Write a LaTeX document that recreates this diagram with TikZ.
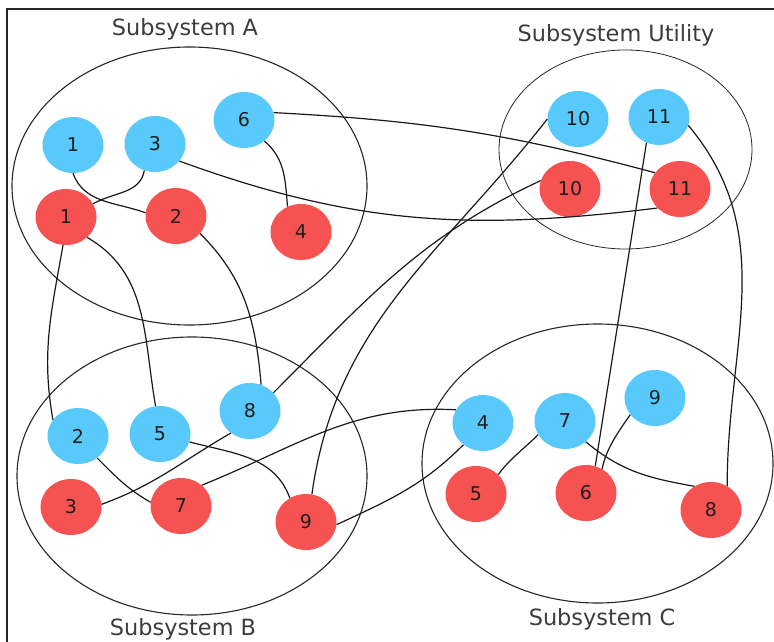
\documentclass[tikz,border=0pt]{standalone}
\usepackage{fontspec}
\setmainfont{DejaVu Sans}
\usetikzlibrary{shapes.geometric}
\definecolor{procblue}{RGB}{88,201,250}
\definecolor{procred}{RGB}{246,82,82}
\definecolor{inktext}{RGB}{30,30,30}
\definecolor{labeltext}{RGB}{60,60,60}
\tikzset{
  bluenode/.style={ellipse, fill=procblue, minimum width=61pt, minimum height=56pt, inner sep=0pt,
    text=inktext, font=\fontsize{19}{23}\selectfont},
  rednode/.style={bluenode, fill=procred},
  group/.style={draw=black!85, line width=1.1pt},
  grouplabel/.style={text=labeltext, font=\fontsize{22.4}{26}\selectfont, inner sep=0pt},
  link/.style={draw=black!90, line width=1.2pt}
}
\begin{document}
\begin{tikzpicture}[x=1pt,y=1pt]
  \useasboundingbox (0,0) rectangle (774,-642);
  % outer frame (top and left edges)
  \draw[line width=2pt, black!85] (7,-642) -- (7,-9) -- (774,-9);

  % subsystem outlines
  \draw[group] (189.5,-186) ellipse [x radius=177.5, y radius=139];
  \draw[group, line width=0.8pt] (625.5,-149.5) ellipse [x radius=126.5, y radius=99.5];
  \draw[group] (192,-476) ellipse [x radius=175, y radius=139];
  \draw[group] (597.5,-463.5) ellipse [x radius=175.5, y radius=139.5];

  \node[grouplabel] (labA) at (185,-29) {Subsystem A};
  \node[grouplabel] (labU) at (616,-35) {Subsystem Utility};
  \node[grouplabel] (labB) at (183,-629) {Subsystem B};
  \node[grouplabel] (labC) at (602,-619) {Subsystem C};

  % subsystem A
  \node[bluenode] (b1) at (73,-145) {1};
  \node[bluenode] (b3) at (155,-144) {3};
  \node[bluenode] (b6) at (244,-120) {6};
  \node[rednode] (r1) at (66,-217) {1};
  \node[rednode] (r2) at (176,-216) {2};
  \node[rednode] (r4) at (301,-232) {4};

  % subsystem Utility
  \node[bluenode] (b10) at (578,-119) {10};
  \node[bluenode] (b11) at (659,-117) {11};
  \node[rednode] (r10) at (570,-189) {10};
  \node[rednode] (r11) at (680,-189) {11};

  % subsystem B
  \node[bluenode] (b2) at (78,-436) {2};
  \node[bluenode] (b5) at (160,-434) {5};
  \node[bluenode] (b8) at (250,-411) {8};
  \node[rednode] (r3) at (71,-507) {3};
  \node[rednode] (r7) at (181,-506) {7};
  \node[rednode] (r9) at (306,-522) {9};

  % subsystem C
  \node[bluenode] (b4) at (483,-423) {4};
  \node[bluenode] (b7) at (565,-421) {7};
  \node[bluenode] (b9) at (655,-398) {9};
  \node[rednode] (r5) at (476,-494) {5};
  \node[rednode] (r6) at (586,-493) {6};
  \node[rednode] (r8) at (711,-510) {8};

  % connections
  \draw[link] (b1.-90) to[out=-70,in=160] (r2.174);
  \draw[link] (b3.-112) to[out=-100,in=30] (r1.26);
  \draw[link] (b6.-46) to[out=-40,in=95] (r4.118);
  \draw[link] (b6.14) to[out=-3,in=165] (r11.147);
  \draw[link] (b3.-35) to[out=-20,in=187] (r11.220);
  \draw[link] (r1.-96) to[out=-100,in=100] (b2.147);
  \draw[link] (r1.-44) to[out=-30,in=100] (b5.99);
  \draw[link] (r2.-36) to[out=-45,in=95] (b8.67);
  \draw[link] (r10.164) to[out=-155,in=45] (b8.38);
  \draw[link] (b10.180) to[out=-128,in=82] (r9.78);
  \draw[link] (b11.-116) -- (r6.71);
  \draw[link] (b11.-16) to[out=-50,in=90] (r8.56);
  \draw[link] (b2.-49) to[out=-45,in=150] (r7.173);
  \draw[link] (b8.-131) to[out=-150,in=20] (r3.5);
  \draw[link] (b5.-15) to[out=-15,in=110] (r9.124);
  \draw[link] (r7.45) to[out=22,in=177] (b4.154);
  \draw[link] (r9.-5) to[out=25,in=-135] (b4.-132);
  \draw[link] (b7.207) .. controls +(-135:18) and +(55:18) .. (r5.41);
  \draw[link] (b9.214) .. controls +(-125:20) and +(80:20) .. (r6.56);
  \draw[link] (b7.-45) to[out=-40,in=170] (r8.125);
\end{tikzpicture}
\end{document}
